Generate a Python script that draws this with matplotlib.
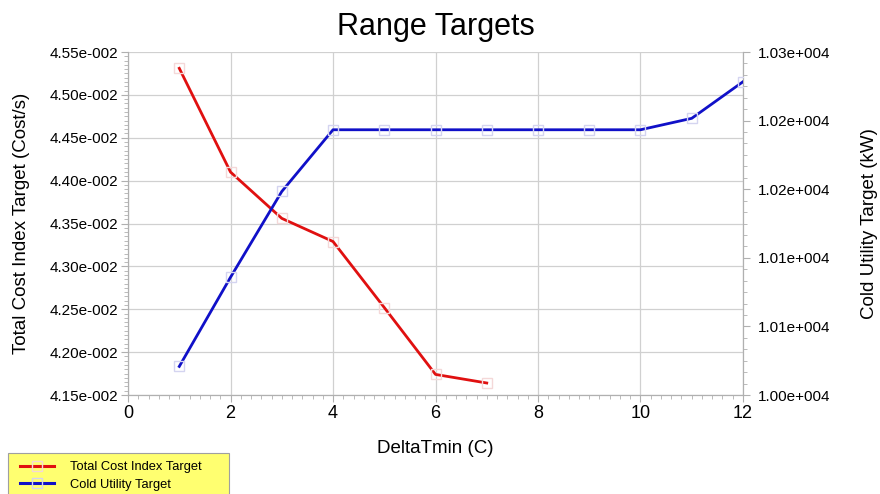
import numpy as np
import matplotlib

matplotlib.use('Agg')
import matplotlib.pyplot as plt
from matplotlib.patches import Rectangle
from matplotlib.ticker import FuncFormatter, AutoMinorLocator, MultipleLocator

plt.rcParams['font.family'] = ['Liberation Sans', 'DejaVu Sans']

# ================ data ======================
cost_x = [1, 2, 3, 4, 5, 6, 7]
cost_y = [4.531e-2, 4.410e-2, 4.356e-2, 4.329e-2, 4.252e-2, 4.174e-2, 4.164e-2]

cold_x = [1, 2, 3, 4, 5, 6, 7, 8, 9, 10, 11, 12]
cold_y = [10025, 10103, 10178, 10232, 10232, 10232, 10232, 10232, 10232,
          10232, 10242, 10274]

left_ticks = [4.15e-2, 4.20e-2, 4.25e-2, 4.30e-2, 4.35e-2, 4.40e-2, 4.45e-2, 4.50e-2, 4.55e-2]
right_ticks = [10000, 10060, 10120, 10180, 10240, 10300]


def sci3(x, pos):
    # old-style three digit exponent, e.g. 4.55e-002
    s = '%.2e' % x
    mant, exp = s.split('e')
    sign = exp[0]
    return '%se%s%03d' % (mant, sign, abs(int(exp)))


# =============================================
W, H = 880, 494
fig = plt.figure(figsize=(8.8, 4.94), dpi=100)
ax = fig.add_axes([0.1455, 0.2004, 0.6988, 0.6943])
ax2 = ax.twinx()

grid_c = '#d0d0d0'
axis_c = '#b0b0b0'

ax.plot(cost_x, cost_y, color='#e01010', lw=2, marker='s', ms=7,
        mfc='none', mec='#f4d8d8', mew=1, label='Total Cost Index Target', zorder=3)
ax2.plot(cold_x, cold_y, color='#1010c8', lw=2, marker='s', ms=7,
         mfc='none', mec='#d4d4f0', mew=1, label='Cold Utility Target', zorder=3)

ax.set_xlim(0, 12)
ax.set_ylim(4.15e-2, 4.55e-2)
ax2.set_ylim(10000, 10300)
ax.xaxis.set_major_locator(MultipleLocator(2))
ax.xaxis.set_minor_locator(AutoMinorLocator(10))
ax.set_yticks(left_ticks)
ax.yaxis.set_minor_locator(AutoMinorLocator(10))
ax2.set_yticks(right_ticks)
ax2.yaxis.set_minor_locator(AutoMinorLocator(6))
ax.yaxis.set_major_formatter(FuncFormatter(sci3))
ax2.yaxis.set_major_formatter(FuncFormatter(sci3))

ax.grid(True, which='major', color=grid_c, lw=0.9)
ax.set_axisbelow(True)

for a in (ax, ax2):
    a.spines['top'].set_visible(False)
    for side in ('left', 'right', 'bottom'):
        a.spines[side].set_color(axis_c)
    a.tick_params(which='both', direction='out', color=axis_c)
    a.tick_params(which='major', length=5)
    a.tick_params(which='minor', length=3)

ax.tick_params(axis='y', labelsize=11, pad=2)
ax2.tick_params(axis='y', labelsize=11, pad=6)
ax.tick_params(axis='x', labelsize=13, pad=2)

ax.set_xlabel('DeltaTmin (C)', fontsize=13.5, labelpad=13)
ax.set_ylabel('Total Cost Index Target (Cost/s)', fontsize=13.5, labelpad=14)
ax2.set_ylabel('Cold Utility Target (kW)', fontsize=13.5, labelpad=22)
ax.set_title('Range Targets', fontsize=22, pad=12)

# yellow legend box at the bottom left
fig.patches.append(Rectangle((8 / W, -0.01), 221 / W, (41 / H) + 0.01,
                             transform=fig.transFigure, facecolor='#ffff70',
                             edgecolor='#a0a0a0', lw=0.8, zorder=0))
h1, l1 = ax.get_legend_handles_labels()
h2, l2 = ax2.get_legend_handles_labels()
leg = fig.legend(h1 + h2, l1 + l2, loc='lower left',
                 bbox_to_anchor=(20 / W, 3 / H), fontsize=9.3,
                 frameon=False, handlelength=2.6, borderpad=0,
                 labelspacing=0.45, handletextpad=1.3, borderaxespad=0)
for line in leg.get_lines():
    line.set_linewidth(2.2)

fig.savefig('out.png', dpi=100)
